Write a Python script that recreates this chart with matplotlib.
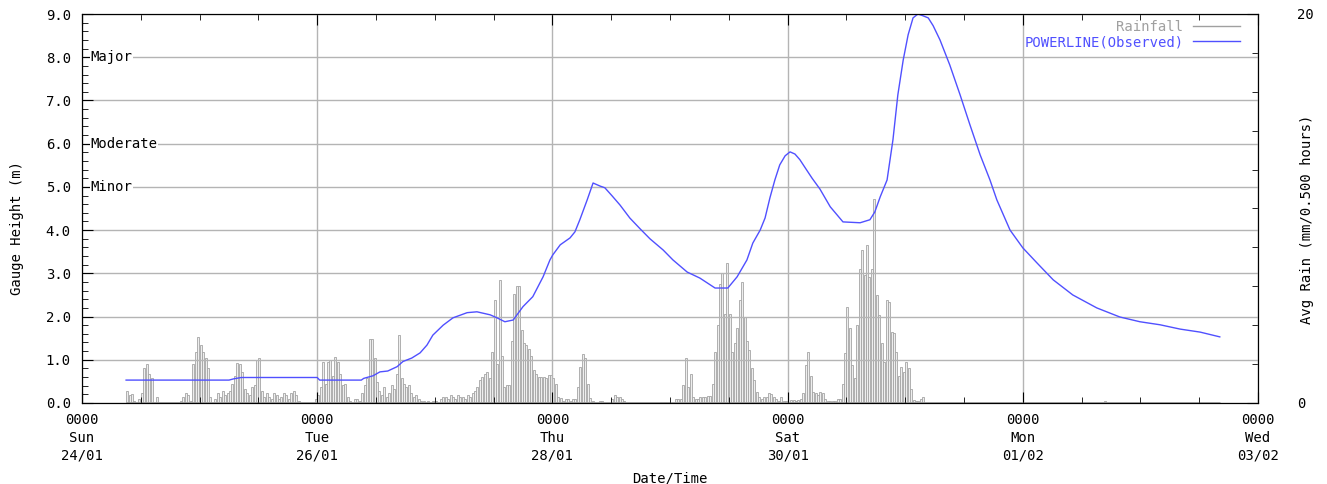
import pandas as pd
import numpy as np
import matplotlib
matplotlib.use('Agg')
import matplotlib.pyplot as plt
import matplotlib.dates as mdates
from matplotlib.lines import Line2D
from matplotlib.ticker import MultipleLocator, FormatStrFormatter

plt.rcParams['font.family'] = ['DejaVu Sans Mono']
plt.rcParams['font.size'] = 10

# half-hourly rainfall (mm) from Sun 24/01 09:00
rain_start = '2021-01-24 09:00'
rain = [
    0.6, 0.4, 0.45, 0.1, 0.0, 0.2, 0.5, 1.8, 2.0, 1.5,
    1.3, 0.0, 0.3, 0.0, 0.0, 0.0, 0.0, 0.0, 0.0, 0.0,
    0.0, 0.0, 0.1, 0.3, 0.5, 0.4, 0.1, 2.0, 2.6, 3.4,
    3.0, 2.6, 2.3, 1.8, 0.3, 0.0, 0.2, 0.5, 0.3, 0.6,
    0.4, 0.5, 0.6, 1.0, 1.4, 2.05, 2.0, 1.6, 0.7, 0.5,
    0.4, 0.8, 0.9, 2.2, 2.3, 0.6, 0.3, 0.5, 0.3, 0.2,
    0.5, 0.4, 0.2, 0.3, 0.5, 0.4, 0.2, 0.5, 0.6, 0.4,
    0.1, 0.0, 0.0, 0.0, 0.0, 0.0, 0.0, 0.2, 0.4, 0.8,
    2.1, 1.0, 2.1, 2.2, 1.4, 2.35, 2.1, 1.5, 0.9, 1.0,
    0.3, 0.1, 0.0, 0.2, 0.2, 0.1, 0.5, 0.9, 1.3, 3.3,
    3.3, 2.3, 1.1, 0.6, 0.4, 0.8, 0.3, 0.5, 0.9, 0.7,
    1.5, 3.5, 1.3, 1.0, 0.8, 0.9, 0.5, 0.3, 0.4, 0.2,
    0.1, 0.1, 0.0, 0.1, 0.0, 0.1, 0.1, 0.0, 0.2, 0.3,
    0.3, 0.2, 0.4, 0.3, 0.2, 0.4, 0.3, 0.3, 0.2, 0.4,
    0.3, 0.5, 0.6, 0.8, 1.2, 1.35, 1.5, 1.6, 1.3, 2.6,
    5.3, 2.0, 6.3, 2.4, 0.8, 0.9, 0.9, 3.2, 5.6, 6.0,
    6.0, 3.75, 3.1, 3.0, 2.8, 2.4, 1.7, 1.5, 1.35, 1.35,
    1.35, 1.3, 1.45, 1.45, 1.3, 1.0, 0.3, 0.25, 0.1, 0.2,
    0.2, 0.1, 0.2, 0.2, 0.8, 1.85, 2.5, 2.3, 1.0, 0.25,
    0.1, 0.0, 0.0, 0.1, 0.1, 0.0, 0.0, 0.0, 0.2, 0.4,
    0.3, 0.3, 0.2, 0.1, 0.0, 0.0, 0.0, 0.0, 0.0, 0.0,
    0.0, 0.0, 0.0, 0.0, 0.0, 0.0, 0.0, 0.0, 0.05, 0.05,
    0.05, 0.05, 0.0, 0.0, 0.2, 0.2, 0.2, 0.9, 2.3, 0.8,
    1.5, 0.3, 0.2, 0.2, 0.3, 0.3, 0.3, 0.35, 0.35, 1.0,
    2.6, 4.0, 6.1, 6.7, 4.6, 7.2, 4.6, 2.6, 3.1, 3.85,
    5.3, 6.2, 4.4, 3.2, 2.7, 1.8, 1.2, 0.55, 0.3, 0.2,
    0.3, 0.3, 0.5, 0.45, 0.3, 0.2, 0.1, 0.3, 0.1, 0.1,
    0.0, 0.15, 0.15, 0.1, 0.15, 0.2, 0.5, 1.95, 2.6, 1.4,
    0.55, 0.5, 0.4, 0.55, 0.5, 0.2, 0.1, 0.1, 0.1, 0.1,
    0.2, 0.2, 1.0, 2.55, 4.95, 3.85, 1.95, 1.3, 4.0, 6.9,
    7.85, 6.6, 8.1, 6.5, 6.9, 10.5, 5.55, 4.5, 3.1, 2.1,
    5.3, 5.2, 3.65, 3.6, 2.6, 1.4, 1.85, 1.6, 2.1, 1.8,
    0.7, 0.15, 0.1, 0.1, 0.2, 0.3,
]
late_rain_times = ['2021-02-01 16:30']
late_rain = [0.1]

# gauge height (m), hours after Sun 24/01 0000
t0 = pd.Timestamp('2021-01-24 00:00')
level_hours = [
    9.0, 30.0, 31.0, 32.5, 48.0, 48.5, 57.0, 57.5, 59.4, 60.8, 62.4, 64.3,
    65.5, 67.3, 69.0, 70.4, 71.6, 73.7, 75.7, 78.6, 80.6, 83.3, 84.7, 86.3,
    88.0, 90.0, 92.0, 94.1, 95.5, 96.1, 97.6, 99.6, 100.6, 101.6, 103.1,
    104.3, 105.7, 106.7, 108.2, 109.8, 111.8, 113.9, 115.9, 118.6, 120.6,
    123.5, 126.1, 129.2, 131.8, 133.7, 135.7, 136.9, 138.4, 139.4, 140.4,
    141.4, 142.4, 143.5, 144.5, 145.5, 146.5, 147.6, 149.0, 150.6, 152.7,
    155.3, 158.8, 160.8, 161.8, 162.9, 164.3, 165.5, 166.5, 167.6, 168.6,
    169.6, 170.6, 171.6, 172.7, 173.7, 175.1, 177.1, 179.2, 181.2, 183.3,
    185.3, 186.7, 189.4, 192.0, 194.9, 198.2, 202.2, 207.1, 211.8, 215.9,
    220.0, 224.1, 228.2, 232.2,
]
levels = [
    0.53, 0.53, 0.56, 0.59, 0.59, 0.53, 0.53, 0.57, 0.63, 0.72, 0.74, 0.84,
    0.96, 1.04, 1.16, 1.34, 1.57, 1.80, 1.97, 2.09, 2.11, 2.04, 1.97, 1.88,
    1.92, 2.23, 2.46, 2.92, 3.31, 3.43, 3.66, 3.82, 3.96, 4.24, 4.70,
    5.09, 5.02, 4.98, 4.79, 4.58, 4.28, 4.03, 3.80, 3.54, 3.31,
    3.03, 2.89, 2.66, 2.66, 2.92, 3.31, 3.70, 4.00, 4.28, 4.75,
    5.16, 5.51, 5.72, 5.81, 5.76, 5.63, 5.44, 5.20, 4.95, 4.54,
    4.19, 4.17, 4.24, 4.42, 4.77, 5.16, 6.09, 7.13, 7.94, 8.52,
    8.91, 9.00, 8.96, 8.91, 8.73, 8.40, 7.82, 7.13, 6.44, 5.74,
    5.16, 4.70, 4.00, 3.59, 3.24, 2.85, 2.50, 2.20, 1.99, 1.88,
    1.81, 1.71, 1.64, 1.53,
]

flood_names = ['Minor', 'Moderate', 'Major']
flood_levels = [5.0, 6.0, 8.0]

tick_days = pd.date_range('2021-01-24', '2021-02-03', freq='2D')

rain_times = pd.date_range(rain_start, periods=len(rain), freq='30min')
rain_times = rain_times.append(pd.DatetimeIndex(late_rain_times))
rain_vals = rain + late_rain
level_times = t0 + pd.to_timedelta(level_hours, unit='h')

blue = '#5050ff'
grey = '#a0a0a0'

fig = plt.figure(figsize=(13.27, 4.84), dpi=100)
ax = fig.add_axes([82 / 1327, 1 - 403 / 484, 1176 / 1327, 389 / 484])
ax2 = ax.twinx()
ax.set_zorder(ax2.get_zorder() + 1)
ax.patch.set_visible(False)

# rainfall bars on the right axis
ax2.bar(rain_times, rain_vals, width=25 / 1440, align='edge',
        facecolor='#eeeeee', edgecolor='#a4a4a4', linewidth=0.6)
ax2.hlines(0, rain_times[0], level_times[-1], color=grey, lw=2)
ax2.set_ylim(0, 20)
ax2.set_yticks([0, 20])
ax2.yaxis.set_minor_locator(MultipleLocator(2))
ax2.tick_params(axis='y', which='both', direction='in', pad=28)
ax2.tick_params(axis='y', which='major', length=8)
ax2.tick_params(axis='y', which='minor', length=4)
ax2.set_ylabel('Avg Rain (mm/0.500 hours)')
ax2.yaxis.set_label_coords(1.036, 0.473)

# gauge height
ax.plot(level_times, levels, color=blue, lw=1)
ax.set_ylim(0, 9)
ax.set_xlim(tick_days[0], tick_days[-1])
ax.yaxis.set_major_locator(MultipleLocator(1))
ax.yaxis.set_minor_locator(MultipleLocator(0.2))
ax.yaxis.set_major_formatter(FormatStrFormatter('%.1f'))
ax.set_xticks(tick_days)
ax.xaxis.set_major_formatter(mdates.DateFormatter('%H%M\n%a\n%d/%m'))
ax.xaxis.set_minor_locator(mdates.HourLocator(byhour=[0, 12]))
ax.tick_params(axis='both', which='both', direction='in', top=True, right=False)
ax.tick_params(axis='both', which='major', length=8)
ax.tick_params(axis='both', which='minor', length=4)
ax.tick_params(axis='y', pad=8)
ax.tick_params(axis='x', pad=7)
for lab in ax.get_xticklabels():
    lab.set_linespacing(1.35)
ax.grid(True, which='major', color='#b4b4b4', lw=1)
for side in ['left', 'right', 'top', 'bottom']:
    ax.spines[side].set_color('black')
    ax2.spines[side].set_color('black')

ax.set_ylabel('Gauge Height (m)')
ax.yaxis.set_label_coords(-0.049, 0.45)
ax.set_xlabel('Date/Time')
ax.xaxis.set_label_coords(0.5, -0.175)

# flood class labels
for name, lvl in zip(flood_names, flood_levels):
    ax.text(0.007, lvl, name, transform=ax.get_yaxis_transform(),
            va='center', ha='left', fontsize=10,
            bbox=dict(facecolor='white', edgecolor='none', pad=0.5))

handles = [Line2D([], [], color=grey, lw=1), Line2D([], [], color=blue, lw=1)]
ax.legend(handles, ['Rainfall', 'POWERLINE(Observed)'], loc='upper right',
          bbox_to_anchor=(0.985, 0.985), borderaxespad=0, borderpad=0,
          markerfirst=False, frameon=False, handlelength=3.4,
          handletextpad=0.7, labelspacing=0.1,
          labelcolor=[grey, blue])

fig.savefig('out.png', dpi=100)
